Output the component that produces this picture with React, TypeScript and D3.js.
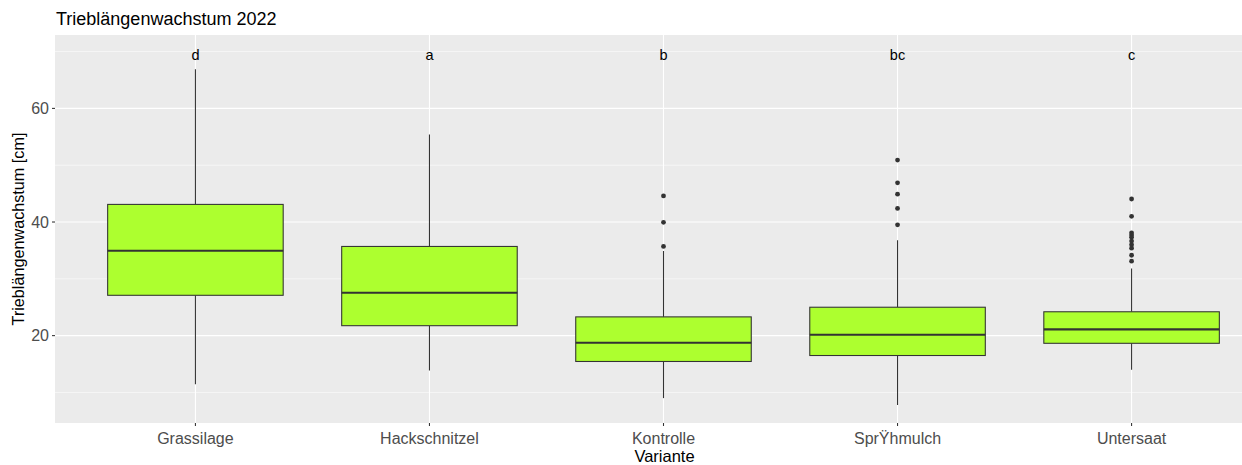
import React from "react";
import * as d3 from "d3";

const categories = ["Grassilage", "Hackschnitzel", "Kontrolle", "SprŸhmulch", "Untersaat"];
const letters = ["d", "a", "b", "bc", "c"];
const whiskerLow = [11.45, 13.85, 9.0, 7.8, 14.0];
const q1 = [27.1, 21.75, 15.45, 16.5, 18.65];
const median = [34.95, 27.55, 18.75, 20.15, 21.1];
const q3 = [43.1, 35.7, 23.3, 25.0, 24.2];
const whiskerHigh = [66.9, 55.4, 34.9, 36.8, 31.8];
const outliers: number[][] = [
  [],
  [],
  [44.6, 39.95, 35.7],
  [50.9, 46.9, 44.9, 42.4, 39.5],
  [44.05, 41.0, 38.1, 37.7, 37.3, 36.65, 36.0, 35.4, 34.15, 33.1],
];
const yMajor = [20, 40, 60];
const yMinor = [10, 30, 50, 70];
const letterY = 69.4;

const W = 1242;
const H = 465;
const panel = { left: 55, top: 35, right: 1272, bottom: 423 };
const FONT = "'Liberation Sans', Arial, sans-serif";

export default function App() {
  const x = d3.scalePoint<string>().domain(categories).range([panel.left, panel.right]).padding(0.6);
  const y = d3.scaleLinear().domain([4.62, 72.92]).range([panel.bottom, panel.top]);
  const step = x.step();
  const bw = step * 0.75;

  return (
    <svg width={W} height={H} style={{ position: "absolute", left: 0, top: 0, display: "block" }} fontFamily={FONT}>
      <rect x={0} y={0} width={W} height={H} fill="#ffffff" />
      <rect x={panel.left} y={panel.top} width={panel.right - panel.left} height={panel.bottom - panel.top} fill="#EBEBEB" />
      {yMinor.map((v) => (
        <line key={"mi" + v} x1={panel.left} x2={panel.right} y1={y(v)} y2={y(v)} stroke="#ffffff" strokeWidth={0.55} />
      ))}
      {yMajor.map((v) => (
        <line key={"ma" + v} x1={panel.left} x2={panel.right} y1={y(v)} y2={y(v)} stroke="#ffffff" strokeWidth={1.1} />
      ))}
      {categories.map((c) => (
        <line key={"vx" + c} x1={x(c)} x2={x(c)} y1={panel.top} y2={panel.bottom} stroke="#ffffff" strokeWidth={1.1} />
      ))}
      {categories.map((c, i) => {
        const cx = x(c)!;
        return (
          <g key={"box" + c}>
            <line x1={cx} x2={cx} y1={y(q3[i])} y2={y(whiskerHigh[i])} stroke="#333333" strokeWidth={1.07} />
            <line x1={cx} x2={cx} y1={y(q1[i])} y2={y(whiskerLow[i])} stroke="#333333" strokeWidth={1.07} />
            <rect x={cx - bw / 2} y={y(q3[i])} width={bw} height={y(q1[i]) - y(q3[i])} fill="#ADFF2F" stroke="#333333" strokeWidth={1.07} />
            <line x1={cx - bw / 2} x2={cx + bw / 2} y1={y(median[i])} y2={y(median[i])} stroke="#333333" strokeWidth={2.13} />
            {outliers[i].map((o, j) => (
              <circle key={j} cx={cx} cy={y(o)} r={2.4} fill="#333333" />
            ))}
            <text x={cx} y={y(letterY)} dy="0.35em" textAnchor="middle" fontSize={14.5} fill="#000000">
              {letters[i]}
            </text>
          </g>
        );
      })}
      {yMajor.map((v) => (
        <g key={"yt" + v}>
          <line x1={panel.left - 3} x2={panel.left} y1={y(v)} y2={y(v)} stroke="#333333" strokeWidth={1.07} />
          <text x={panel.left - 6} y={y(v)} dy="0.35em" textAnchor="end" fontSize={16} fill="#4D4D4D">
            {v}
          </text>
        </g>
      ))}
      {categories.map((c) => (
        <g key={"xt" + c}>
          <line x1={x(c)} x2={x(c)} y1={panel.bottom} y2={panel.bottom + 3} stroke="#333333" strokeWidth={1.07} />
          <text x={x(c)} y={444} textAnchor="middle" fontSize={16} fill="#4D4D4D">
            {c}
          </text>
        </g>
      ))}
      <text x={664.5} y={462} textAnchor="middle" fontSize={16.5} fill="#000000">
        Variante
      </text>
      <text transform={`translate(24, ${(panel.top + panel.bottom) / 2}) rotate(-90)`} textAnchor="middle" fontSize={16.2} fill="#000000">
        Trieblängenwachstum [cm]
      </text>
      <text x={56} y={25} fontSize={18} fill="#000000">
        Trieblängenwachstum 2022
      </text>
    </svg>
  );
}
